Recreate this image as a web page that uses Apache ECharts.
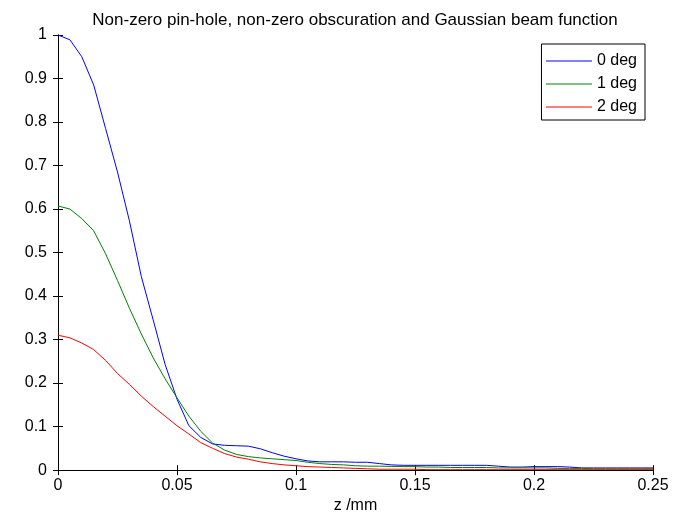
<!DOCTYPE html>
<html>
<head>
<meta charset="utf-8">
<script src="https://cdn.jsdelivr.net/npm/echarts@6/dist/echarts.min.js"></script>
<style>
html,body{margin:0;padding:0;background:#fff;}
#chart{width:683px;height:519px;}
</style>
</head>
<body>
<div id="chart"></div>
<script>
var zValues = [0,0.005,0.01,0.015,0.02,0.025,0.03,0.035,0.04,0.045,0.05,0.055,0.06,0.065,0.07,0.075,0.08,0.085,0.09,0.095,0.1,0.105,0.11,0.115,0.12,0.125,0.13,0.135,0.14,0.145,0.15,0.155,0.16,0.165,0.17,0.175,0.18,0.185,0.19,0.195,0.2,0.205,0.21,0.215,0.22,0.225,0.23,0.235,0.24,0.245,0.25];
var deg0 = [1.000,0.989,0.950,0.885,0.785,0.685,0.573,0.445,0.345,0.243,0.163,0.102,0.075,0.060,0.057,0.056,0.055,0.049,0.040,0.032,0.026,0.021,0.019,0.019,0.019,0.018,0.018,0.015,0.012,0.011,0.011,0.011,0.011,0.011,0.011,0.011,0.011,0.009,0.007,0.007,0.008,0.008,0.008,0.007,0.005,0.005,0.005,0.005,0.005,0.005,0.005];
var deg1 = [0.607,0.600,0.578,0.550,0.497,0.436,0.372,0.313,0.258,0.210,0.166,0.124,0.089,0.062,0.046,0.036,0.031,0.028,0.026,0.024,0.022,0.018,0.015,0.013,0.012,0.010,0.009,0.009,0.0085,0.008,0.008,0.007,0.007,0.006,0.006,0.006,0.006,0.005,0.005,0.005,0.005,0.005,0.004,0.004,0.004,0.003,0.003,0.003,0.003,0.003,0.003];
var deg2 = [0.310,0.304,0.292,0.277,0.252,0.222,0.197,0.170,0.146,0.124,0.102,0.083,0.063,0.050,0.038,0.030,0.025,0.019,0.015,0.012,0.010,0.008,0.007,0.006,0.005,0.004,0.003,0.002,0.002,0.002,0.002,0.001,0.001,0.001,0.001,0.001,0.001,0.001,0.001,0.001,0.001,0.001,0.001,0.001,0.001,0.001,0.001,0.001,0.001,0.001,0.001];
var seriesNames = ['0 deg','1 deg','2 deg'];
var seriesColors = ['#0000ff','#008000','#ff0000'];
var titleText = 'Non-zero pin-hole, non-zero obscuration and Gaussian beam function';
var xLabel = 'z /mm';

function pairs(ys){ return zValues.map(function(z,i){ return [z, ys[i]]; }); }
var allData = [deg0, deg1, deg2];

var FONT = 'Liberation Sans, Arial, sans-serif';
var chart = echarts.init(document.getElementById('chart'), null, {renderer:'canvas'});
var axisCommon = {
  axisLine:{show:true, lineStyle:{color:'#000', width:1}},
  axisTick:{show:true, inside:true, length:5, lineStyle:{color:'#000', width:1}},
  splitLine:{show:false}
};
chart.setOption({
  animation:false,
  backgroundColor:'#fff',
  title:{text:titleText, left:350, textAlign:'center', top:7,
    textStyle:{fontFamily:FONT, fontSize:17, fontWeight:'normal', color:'#000'}},
  grid:{left:58, right:30, top:35, bottom:46, containLabel:false},
  legend:{orient:'vertical', right:38, top:44, padding:[9,8,5,4], itemGap:7,
    itemWidth:46, itemHeight:16, backgroundColor:'#fff', borderColor:'#000', borderWidth:1,
    borderRadius:0, itemStyle:{opacity:0}, lineStyle:{width:1},
    textStyle:{fontFamily:FONT, fontSize:16, color:'#000'},
    data:seriesNames},
  xAxis:[
    Object.assign({type:'value', min:0, max:0.25, interval:0.05, position:'bottom',
      name:xLabel, nameLocation:'middle', nameGap:25,
      nameTextStyle:{fontFamily:FONT, fontSize:16, color:'#000'},
      axisLabel:{fontFamily:FONT, fontSize:16, color:'#000', margin:7}}, axisCommon),
    Object.assign({type:'value', min:0, max:0.25, interval:0.05, position:'top',
      axisLabel:{show:false}}, axisCommon)
  ],
  yAxis:[
    Object.assign({type:'value', min:0, max:1, interval:0.1, position:'left',
      axisLabel:{fontFamily:FONT, fontSize:16, color:'#000', margin:11}}, axisCommon),
    Object.assign({type:'value', min:0, max:1, interval:0.1, position:'right',
      axisLabel:{show:false}}, axisCommon)
  ],
  series: seriesNames.map(function(n,i){
    return {name:n, type:'line', xAxisIndex:0, yAxisIndex:0, data:pairs(allData[i]),
      showSymbol:false, symbol:'none', lineStyle:{color:seriesColors[i], width:1},
      itemStyle:{color:seriesColors[i]}};
  })
});
</script>
</body>
</html>
